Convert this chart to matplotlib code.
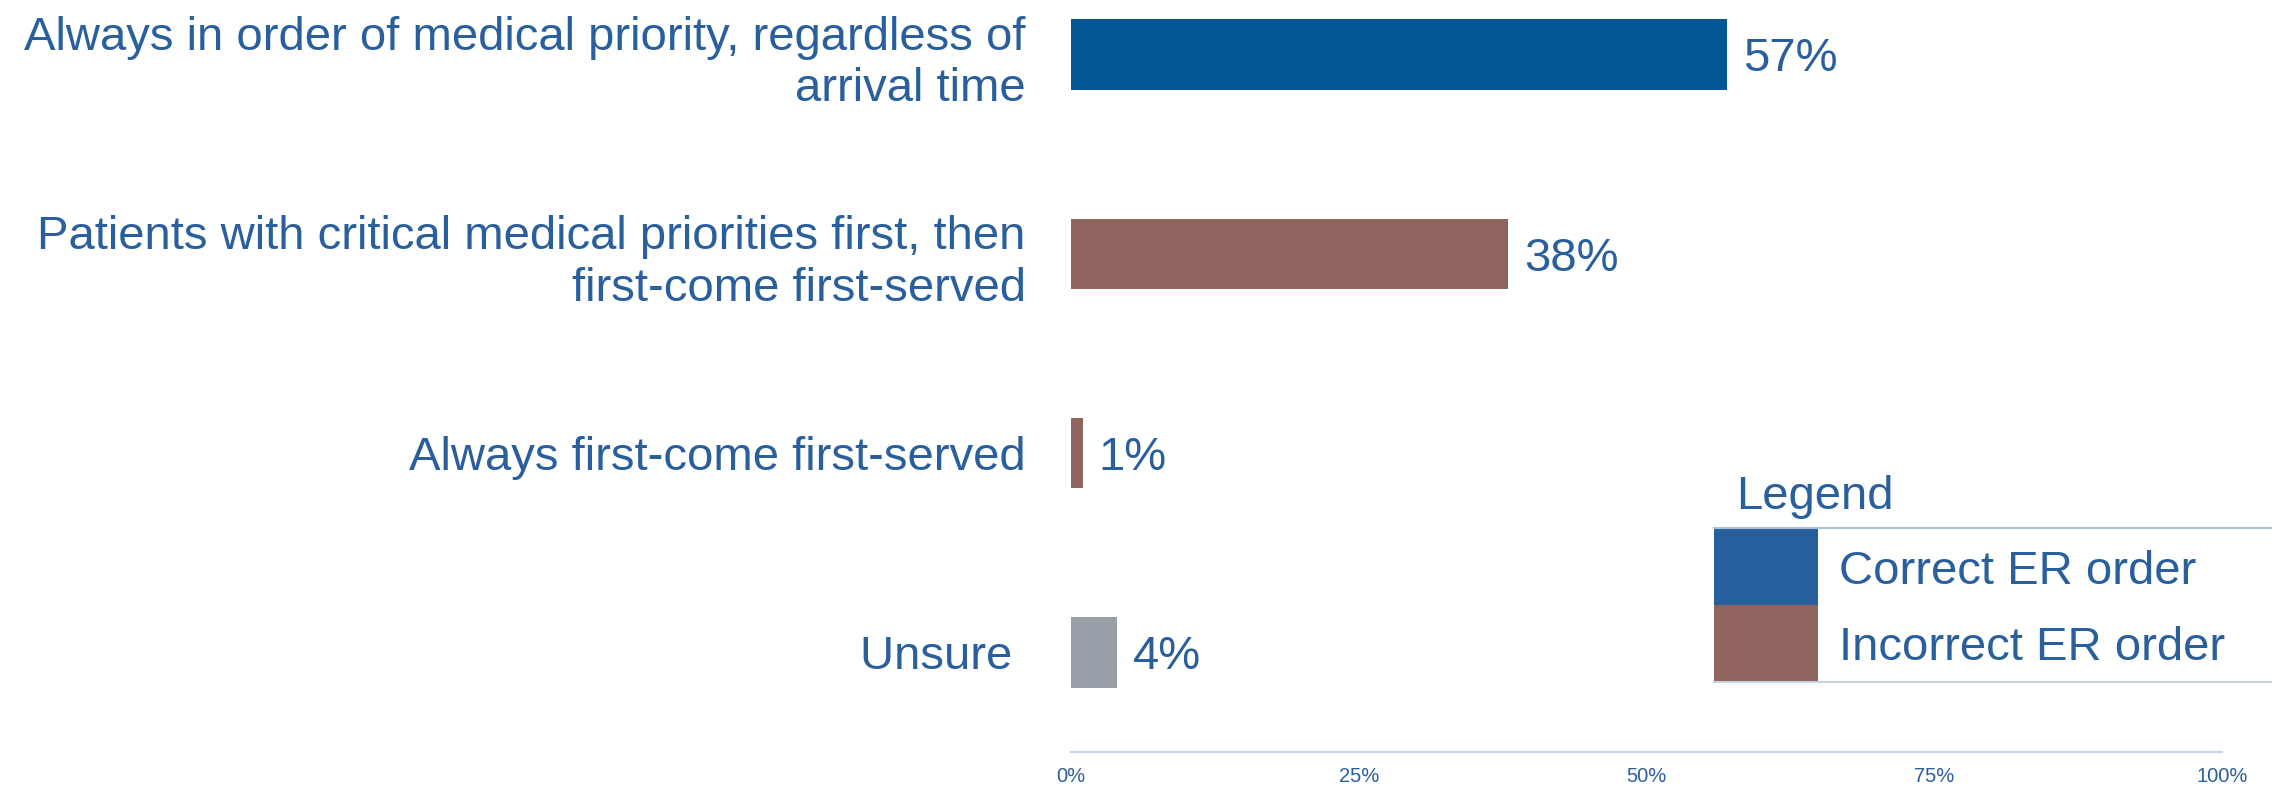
import matplotlib
matplotlib.use("Agg")
import matplotlib.pyplot as plt
from matplotlib.patches import Rectangle
from matplotlib.lines import Line2D

plt.rcParams['font.family'] = ['Liberation Sans', 'DejaVu Sans']

# survey answers, top to bottom
answers = [
    "Always in order of medical priority, regardless of\narrival time",
    "Patients with critical medical priorities first, then\nfirst-come first-served",
    "Always first-come first-served",
    "Unsure ",
]
shares = [57, 38, 1, 4]
groups = ["correct", "incorrect", "incorrect", "unsure"]
value_labels = ["57%", "38%", "1%", "4%"]
xticks = [0, 25, 50, 75, 100]
xtick_labels = ["0%", "25%", "50%", "75%", "100%"]
legend_items = ["Correct ER order", "Incorrect ER order"]

TEXT = "#2A5F9E"
bar_colors = {"correct": "#035695", "incorrect": "#91655F", "unsure": "#97A0A8"}
swatch_colors = ["#265F9C", "#91655F"]

W, H = 2272, 789
fig = plt.figure(figsize=(W / 100, H / 100), dpi=100)
ax = fig.add_axes([1071 / W, (H - 752) / H, 1151 / W, 752 / H])

ypos = list(range(len(answers)))
ax.barh(ypos, shares, height=0.354, color=[bar_colors[g] for g in groups], zorder=2)

for y, v, lab in zip(ypos, shares, value_labels):
    ax.annotate(lab, (v, y), xytext=(11.5, -12.2), textcoords="offset points",
                ha="left", va="baseline", fontsize=34, color=TEXT)

ax.set_xlim(0, 100)
ax.set_ylim(3.5, -0.2735)
ax.set_yticks(ypos)
ax.set_yticklabels(answers, fontsize=34, color=TEXT, linespacing=1.23)
ax.set_xticks(xticks)
ax.set_xticklabels(xtick_labels, fontsize=14.5, color=TEXT)
ax.tick_params(axis="y", length=0, pad=32.5)
ax.tick_params(axis="x", length=0, pad=11)

for side in ["top", "right", "left"]:
    ax.spines[side].set_visible(False)
ax.spines["bottom"].set_color("#C8D3E3")
ax.spines["bottom"].set_linewidth(1.5)

# hand-built legend box in pixel space
lax = fig.add_axes([0, 0, 1, 1], zorder=5)
lax.set_xlim(0, W)
lax.set_ylim(H, 0)
lax.axis("off")

lax.text(1736, 509, "Legend", fontsize=34, color=TEXT, va="baseline", ha="left")
row_h = 77
top = 528
for i, (name, col) in enumerate(zip(legend_items, swatch_colors)):
    y0 = top + i * row_h
    lax.add_patch(Rectangle((1714, y0), 104, row_h, facecolor=col, edgecolor="none"))
    lax.text(1839, y0 + row_h / 2 + 17, name, fontsize=34, color=TEXT,
             va="baseline", ha="left")
lax.add_line(Line2D([1714, W], [top, top], color="#AFC1DA", lw=1.5))
lax.add_line(Line2D([1714, W], [top + 2 * row_h, top + 2 * row_h], color="#C9D3E3", lw=1.5))

fig.savefig("out.png", dpi=100, facecolor="white")
